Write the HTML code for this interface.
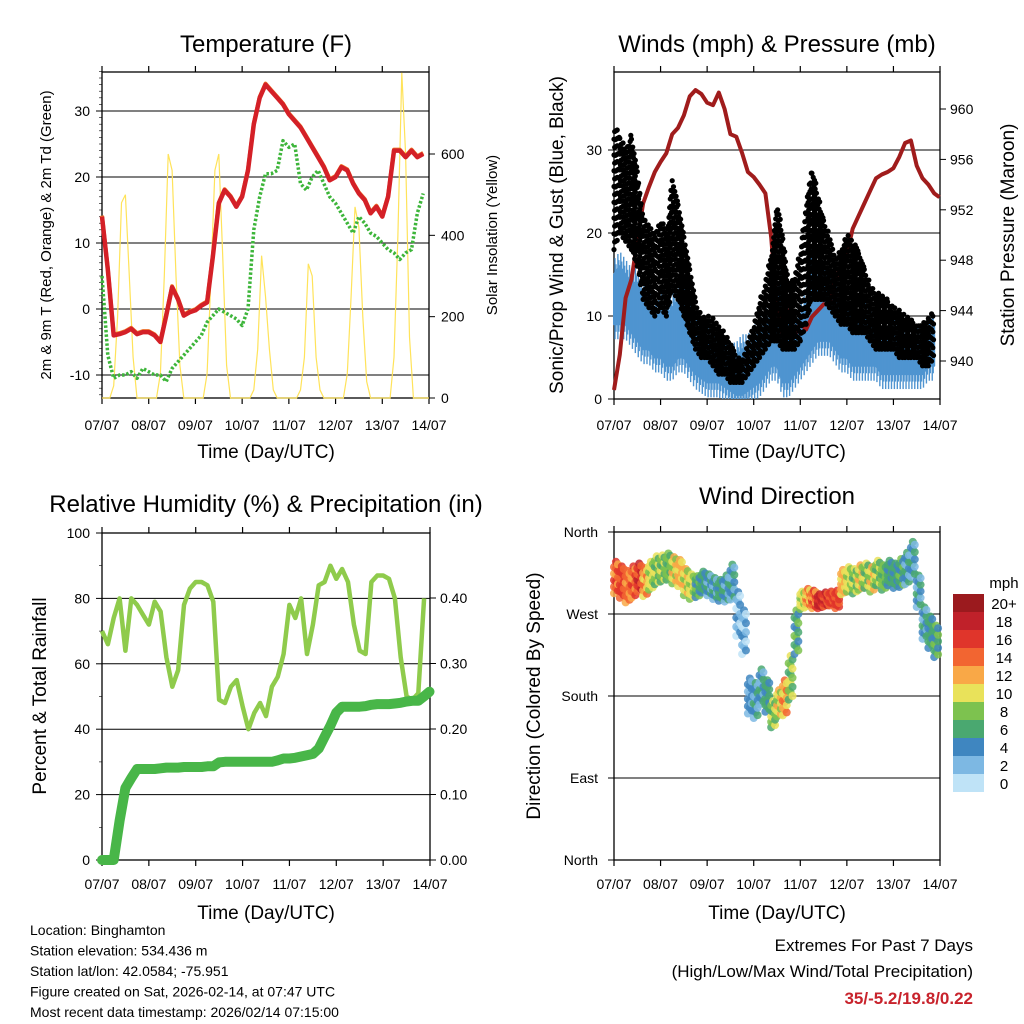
<!DOCTYPE html>
<html><head><meta charset="utf-8"><style>
body{margin:0;background:#fff}
svg{display:block;font-family:"Liberation Sans",Arial,sans-serif}
</style></head><body>
<svg id="c" width="1024" height="1024" viewBox="0 0 1024 1024" xmlns="http://www.w3.org/2000/svg"></svg>
<script>
// ---- data (t = i/8 days, 3-hourly) ----
const dayLabels=["07/07","08/07","09/07","10/07","11/07","12/07","13/07","14/07"];
const tempF=[14,6,-4,-3.8,-3.5,-3,-3.8,-3.5,-3.5,-4,-5,-1,3.3,1.5,-1,-0.5,-0.2,0.5,1,8,16,18,17,15.5,17,21,28,32,34,33,32,31,29.5,28.5,27.5,26,24.5,23,21.5,19.5,20,21.5,21,19,17.5,16.5,14.5,15.5,14,17,24,24,23,24,23,23.5];
const dewF=[5,-7,-10.5,-10,-10,-9.5,-10.5,-9,-9.5,-10,-10,-11,-9,-8,-7,-6,-5,-4,-2,-1,0,-0.5,-1,-1.5,-2.5,0,12,17,20.5,20.5,21,25.5,24.5,25,19,18,20,21,19,17,16,14.5,13,11.5,14,13,11.5,11,10,9,8.5,7.5,8.5,9,14.5,17.5];
// solar, 2-hourly (12 per day)
const solar=[0,0,0,30,200,480,500,300,100,0,0,0, 0,0,0,60,300,600,560,300,80,0,0,0, 0,0,0,60,300,560,600,350,80,0,0,0, 0,0,0,20,120,350,250,120,20,0,0,0, 0,0,0,20,100,330,300,100,20,0,0,0, 0,0,0,60,250,470,420,200,40,0,0,0, 0,0,0,100,400,800,600,150,0,0,0,0,0];
const pressure=[937.7,940.5,945,946.5,949.5,952.5,953.8,955,955.8,956.5,958,958.5,959.5,961,961.5,961.2,960.5,960.3,961.3,960,958,957.8,956.5,955,954.6,954,953.3,949.8,944,942,944,942,943,942.5,943.5,944,944.5,944.5,946.5,947.5,948.5,950.5,951.5,952.5,953.5,954.5,954.8,955,955.3,956.2,957.3,957.5,955.5,954.5,954,953.3,953];
const windHi=[15,16,15,14,14,12,11,10,11,10,11,12,12,11,9,8,7,7,6,6,5,5,6,6,7,8,9,10,11,16,9,8,10,11,18,14,16,13,12,11,10,10,9,10,9,8,7,8,8,8,7,7,7,7,8,9];
const windLo=[9,9,9,8,7,6,6,5,5,4,4,5,5,4,3,2.5,2,2,2,1.5,1,0.5,0.5,1,1.5,2,3,4,4,2,2,3,4,5,6,7,7,7,6,5,5,4,4,4,4,4,3,3,3,3,3,3,3,3,4,4];
const gustHi=[33,32,30,32,28,22,21,20,22,20,27,24,20,16,12,10,10,10,9,8,7,5,5,7,9,12,14,18,24,20,14,15,18,24,28,25,22,20,17,18,20,19,18,16,14,13,13,12,11,11,10,10,9,9,10,11];
const gustLo=[18,20,19,18,16,12,11,10,11,10,13,12,10,8,6,5,5,4,3,3,2,2,2,3,4,5,6,7,7,6,6,6,7,9,12,12,12,11,10,9,9,8,8,8,7,6,6,6,6,5,5,5,5,4,4,5];
const rh=[70,66,74,80,64,80,78,75,72,79,76,62,53,58,78,83,85,85,84,79,49,48,53,55,47,40,45,48,44,53,56,63,78,74,80,63,72,84,85,90,86,89,85,72,64,63,85,87,87,86,80,62,50,49,51,80];
const precip=[0,0,0,0.06,0.11,0.125,0.139,0.139,0.139,0.139,0.14,0.141,0.141,0.141,0.142,0.142,0.142,0.142,0.143,0.143,0.149,0.15,0.15,0.15,0.15,0.15,0.15,0.15,0.15,0.15,0.152,0.155,0.155,0.156,0.158,0.16,0.162,0.17,0.188,0.205,0.225,0.234,0.234,0.234,0.234,0.235,0.237,0.238,0.238,0.238,0.239,0.24,0.242,0.243,0.243,0.25,0.257];
const windDir=[310,305,300,305,310,305,312,318,320,322,318,315,305,300,300,305,302,298,296,298,305,270,250,180,175,190,180,160,172,178,200,250,285,288,286,284,286,287,286,305,308,306,310,312,308,315,310,315,312,315,320,330,295,260,250,240];
const dirSpread=[18,18,18,18,16,16,16,16,15,15,15,15,15,14,12,12,12,12,12,15,20,25,25,20,20,20,18,15,15,20,25,25,10,10,10,8,8,8,10,14,14,14,14,14,14,14,14,14,14,16,18,20,18,18,18,18];
const dirSpeed=[14,15,13,14,16,12,9,8,8,7,10,11,10,9,6,5,4,4,5,4,4,2,2,3,4,4,5,8,10,12,8,6,9,12,14,17,16,15,15,11,9,8,10,8,10,8,7,5,5,6,4,4,4,4,5,6];
const cbLabels=["20+","18","16","14","12","10","8","6","4","2","0"];
const cbColors=["#9b1a1e","#c0212a","#e0352b","#f26531","#f9a847","#e9e25a","#7dc24f","#4aa870","#3f86c0","#7db8e3","#bfe3f7"];

const NS="http://www.w3.org/2000/svg";
const svg=document.getElementById('c');
function el(tag,attrs,parent,txt){const e=document.createElementNS(NS,tag);for(const k in attrs)e.setAttribute(k,attrs[k]);if(txt!==undefined)e.textContent=txt;(parent||svg).appendChild(e);return e;}
function grp(name){const g=el('g',{});return g;}
function lin(x0,x1,d0,d1){return v=>x0+(v-d0)/(d1-d0)*(x1-x0);}
function pathD(xs,ys){let d='';for(let i=0;i<xs.length;i++)d+=(i?'L':'M')+xs[i].toFixed(1)+' '+ys[i].toFixed(1);return d;}

function frame(name,L,T,R,B){
  const g=grp(name);
  el('rect',{x:L,y:T,width:R-L,height:B-T,fill:'none',stroke:'#000','stroke-width':1.3},g);
  return g;
}
function xTicks(g,L,R,T,B,labY){
  const X=lin(L,R,0,7);
  for(let d=0;d<8;d++){const x=X(d);
    el('line',{x1:x,y1:B,x2:x,y2:B+6,stroke:'#000','stroke-width':1.2},g);
    el('line',{x1:x,y1:T,x2:x,y2:T-6,stroke:'#000','stroke-width':1.2},g);
    const t=el('text',{x:x,y:labY,'font-size':14,'text-anchor':'middle'},g,dayLabels[d]);
    
    
  }
}
function text(x,y,s,size,opts,name){const t=el('text',Object.assign({x:x,y:y,'font-size':size},opts||{}),svg,s);return t;}
function rtext(x,y,s,size,rot,name){const t=el('text',{x:0,y:0,'font-size':size,'text-anchor':'middle',transform:`translate(${x},${y}) rotate(${rot})`},svg,s);return t;}

// ===== Panel 1: Temperature =====
(function(){
  const L=102,R=429,T=72,B=398;
  const X=lin(L,R,0,7), Y=lin(309,243,0,10), YS=lin(398,154,0,600);
  const g=frame('temperature-panel',L,T,R,B);
  [-10,0,10,20,30].forEach(v=>{el('line',{x1:L,x2:R,y1:Y(v),y2:Y(v),stroke:'#000','stroke-width':1},g);
    el('line',{x1:L-6,x2:L,y1:Y(v),y2:Y(v),stroke:'#000'},g);
    const t=el('text',{x:L-12,y:Y(v)+5,'font-size':14,'text-anchor':'end'},g,String(v));});
  for(let v=-13;v<=36;v++){if(v%10)el('line',{x1:L-3,x2:L,y1:Y(v),y2:Y(v),stroke:'#000','stroke-width':0.6},g);}
  [0,200,400,600].forEach(v=>{el('line',{x1:R,x2:R+6,y1:YS(v),y2:YS(v),stroke:'#000'},g);
    const t=el('text',{x:R+12,y:YS(v)+5,'font-size':14},g,String(v));});
  xTicks(g,L,R,T,B,430);
  const sx=solar.map((v,i)=>X(i/12)), sy=solar.map(v=>Math.max(YS(v),T));
  const sp=el('path',{d:pathD(sx,sy),fill:'none',stroke:'#ffe35a','stroke-width':1.2},g);
  const tx=tempF.map((v,i)=>X(i/8));
  const o=el('path',{d:pathD(tx,tempF.map(v=>Y(v)-1)),fill:'none',stroke:'#f07a2a','stroke-width':4,'stroke-linejoin':'round'},g);
  const r=el('path',{d:pathD(tx,tempF.map(Y)),fill:'none',stroke:'#d42027','stroke-width':4.5,'stroke-linejoin':'round'},g);
  const d=el('path',{d:pathD(dewF.map((v,i)=>X(i/8)),dewF.map(Y)),fill:'none',stroke:'#3db53a','stroke-width':3.5,'stroke-dasharray':'2.5 2','stroke-linejoin':'round'},g);
  text(266,52,'Temperature (F)',24,{'text-anchor':'middle'},'temperature-title');
  text(266,458,'Time (Day/UTC)',19,{'text-anchor':'middle'},'x-axis-title');
  rtext(51,235,'2m & 9m T (Red, Orange) & 2m Td (Green)',15,-90,'y-axis-title');
  rtext(497,235,'Solar Insolation (Yellow)',15,-90,'solar-axis-title');
})();

// ===== Panel 2: Winds & Pressure =====
(function(){
  const L=614,R=940,T=72,B=399;
  const X=lin(L,R,0,7), Y=lin(399,316,0,10), YP=lin(361,109,940,960);
  const g=frame('winds-panel',L,T,R,B);
  [10,20,30].forEach(v=>el('line',{x1:L,x2:R,y1:Y(v),y2:Y(v),stroke:'#000'},g));
  [0,10,20,30].forEach(v=>{el('line',{x1:L-6,x2:L,y1:Y(v),y2:Y(v),stroke:'#000'},g);
    const t=el('text',{x:L-12,y:Y(v)+5,'font-size':14,'text-anchor':'end'},g,String(v));});
  [940,944,948,952,956,960].forEach(v=>{el('line',{x1:R,x2:R+6,y1:YP(v),y2:YP(v),stroke:'#000'},g);
    const t=el('text',{x:R+10,y:YP(v)+5,'font-size':14},g,String(v));});
  xTicks(g,L,R,T,B,430);
  // gust dots
  const gd=grp('gust-dots');
  const N=gustHi.length;
  for(let i=0;i<N-1;i++){for(let s=0;s<9;s++){const f=s/9;const t=(i+f)/8;
    const hi=gustHi[i]+(gustHi[i+1]-gustHi[i])*f, lo=gustLo[i]+(gustLo[i+1]-gustLo[i])*f;
    const off=((s*7)%5)*0.35;
    for(let v=lo+off;v<=hi;v+=1.9){const c=el('circle',{cx:X(t),cy:Y(v),r:2.6,fill:'#000'},gd);}}}
  // wind band
  const xs=windHi.map((v,i)=>X(i/8));
  let d=pathD(xs,windHi.map(Y));for(let i=windLo.length-1;i>=0;i--)d+='L'+xs[i].toFixed(1)+' '+Y(windLo[i]).toFixed(1);d+='Z';
  const wb=el('path',{d:d,fill:'#4f94d0',stroke:'#4f94d0','stroke-width':2,'stroke-linejoin':'round'},g);
  // jagged edges
  for(let i=0;i<windHi.length-1;i++){for(let s=0;s<6;s++){const f=s/6;const hi=windHi[i]+(windHi[i+1]-windHi[i])*f, lo=windLo[i]+(windLo[i+1]-windLo[i])*f;
    const ext=((s*5)%3)*0.9;const x=X((i+f)/8);
    const ln=el('line',{x1:x,x2:x,y1:Y(hi+ext),y2:Y(Math.max(lo-ext,0)),stroke:'#4f94d0','stroke-width':1.4},g);}}
  const p=el('path',{d:pathD(pressure.map((v,i)=>X(Math.min(i/8,6.99))),pressure.map(YP)),fill:'none',stroke:'#a01c1c','stroke-width':4,'stroke-linejoin':'round'},g);
  text(777,52,'Winds (mph) & Pressure (mb)',24,{'text-anchor':'middle'},'winds-title');
  text(777,458,'Time (Day/UTC)',19,{'text-anchor':'middle'},'x-axis-title');
  rtext(563,235,'Sonic/Prop Wind & Gust (Blue, Black)',19,-90,'wind-axis-title');
  rtext(1014,235,'Station Pressure (Maroon)',19,-90,'pressure-axis-title');
})();

// ===== Panel 3: RH & Precip =====
(function(){
  const L=102,R=430,T=533,B=860;
  const X=lin(L,R,0,7), Y=lin(860,533,0,100), YP=lin(860,598,0,0.4);
  const g=frame('humidity-panel',L,T,R,B);
  [20,40,60,80].forEach(v=>el('line',{x1:L,x2:R,y1:Y(v),y2:Y(v),stroke:'#000'},g));
  [0,20,40,60,80,100].forEach(v=>{el('line',{x1:L-6,x2:L,y1:Y(v),y2:Y(v),stroke:'#000'},g);
    const t=el('text',{x:L-12,y:Y(v)+5,'font-size':14,'text-anchor':'end'},g,String(v));});
  for(let v=10;v<100;v+=20)el('line',{x1:L-3,x2:L,y1:Y(v),y2:Y(v),stroke:'#000','stroke-width':0.6},g);
  ['0.00','0.10','0.20','0.30','0.40'].forEach(s=>{const v=parseFloat(s);el('line',{x1:R,x2:R+6,y1:YP(v),y2:YP(v),stroke:'#000'},g);
    const t=el('text',{x:R+10,y:YP(v)+5,'font-size':14},g,s);});
  xTicks(g,L,R,T,B,889);
  const r=el('path',{d:pathD(rh.map((v,i)=>X(i/8)),rh.map(Y)),fill:'none',stroke:'#8fcb4c','stroke-width':4.5,'stroke-linejoin':'round'},g);
  const p=el('path',{d:pathD(precip.map((v,i)=>X(Math.min(i/8,6.99))),precip.map(YP)),fill:'none',stroke:'#48b648','stroke-width':10,'stroke-linejoin':'round','stroke-linecap':'round'},g);
  text(266,512,'Relative Humidity (%) & Precipitation (in)',24,{'text-anchor':'middle'},'humidity-title');
  text(266,919,'Time (Day/UTC)',19,{'text-anchor':'middle'},'x-axis-title');
  rtext(46,696,'Percent & Total Rainfall',19,-90,'rh-axis-title');
})();

// ===== Panel 4: Wind Direction =====
(function(){
  const L=614,R=940,T=532,B=860;
  const X=lin(L,R,0,7), Y=lin(860,532,0,360);
  const g=frame('wind-direction-panel',L,T,R,B);
  const names=['North','East','South','West','North'];
  [0,90,180,270,360].forEach((v,k)=>{if(v>0&&v<360)el('line',{x1:L,x2:R,y1:Y(v),y2:Y(v),stroke:'#000'},g);
    el('line',{x1:L-6,x2:L,y1:Y(v),y2:Y(v),stroke:'#000'},g);
    const t=el('text',{x:L-16,y:Y(v)+5,'font-size':14,'text-anchor':'end'},g,names[k]);});
  xTicks(g,L,R,T,B,889);
  const dg=grp('direction-points');
  function col(s){let k=Math.min(10,Math.max(0,Math.round(s/2)));return cbColors[10-k];}
  for(let i=0;i<windDir.length;i++){for(let a=0;a<3;a++){const t=(i+a/3)/8;
    for(let b=-2;b<=2;b++){const dv=windDir[i]+(b+((a*2)%3-1)*0.4)*dirSpread[i]/2.5;const sp=dirSpeed[i]+((a+b+5)%3-1)*1.5;
      const c=el('circle',{cx:X(t),cy:Y(dv),r:4,fill:col(sp),'fill-opacity':0.85},dg);
      }}}
  // colorbar
  const cb=grp('speed-colorbar');
  cbColors.forEach((c,k)=>{el('rect',{x:953,y:594+k*18,width:31,height:18,fill:c},cb);
    const t=el('text',{x:1004,y:594+k*18+15,'font-size':15,'text-anchor':'middle'},cb,cbLabels[k]);});
  text(1004,588,'mph',15,{'text-anchor':'middle'},'colorbar-title');
  text(777,504,'Wind Direction',24,{'text-anchor':'middle'},'wind-direction-title');
  text(777,919,'Time (Day/UTC)',19,{'text-anchor':'middle'},'x-axis-title');
  rtext(540,696,'Direction (Colored By Speed)',19,-90,'direction-axis-title');
})();

// ===== footer =====
['Location: Binghamton','Station elevation: 534.436 m','Station lat/lon: 42.0584; -75.951','Figure created on Sat, 2026-02-14, at 07:47 UTC','Most recent data timestamp: 2026/02/14 07:15:00'].forEach((s,k)=>text(30,935+k*20.5,s,14,{},'station-info-line'));
text(973,951,'Extremes For Past 7 Days',17,{'text-anchor':'end'},'extremes-heading');
text(973,977,'(High/Low/Max Wind/Total Precipitation)',17,{'text-anchor':'end'},'extremes-subheading');
text(973,1004,'35/-5.2/19.8/0.22',17,{'text-anchor':'end','font-weight':'bold',fill:'#c8232c'},'extremes-values');
</script>
</body></html>
